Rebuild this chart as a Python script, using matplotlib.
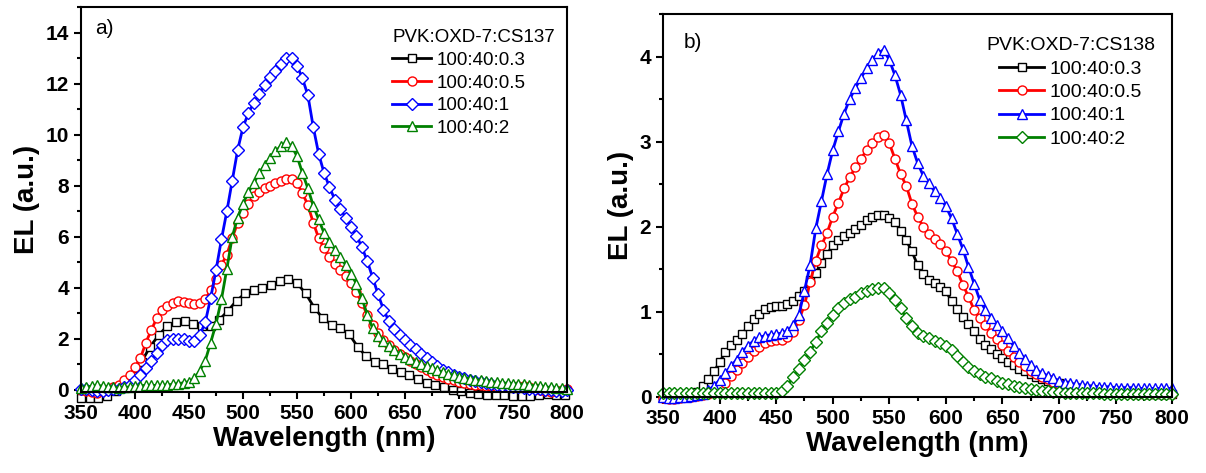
import numpy as np
import matplotlib
matplotlib.use('Agg')
import matplotlib.pyplot as plt
from matplotlib.ticker import MultipleLocator

plt.rcParams['font.family'] = ['Liberation Sans', 'DejaVu Sans']

# ---- panel a) PVK:OXD-7:CS137 ----
wl_a_black = list(range(350, 800, 8))
el_a_black = [-0.30, -0.32, -0.30, -0.25, -0.05, 0.15, 0.55, 1.10, 1.70, 2.15,
              2.52, 2.68, 2.70, 2.58, 2.50, 2.52, 2.75, 3.10, 3.50, 3.78,
              3.92, 4.00, 4.12, 4.25, 4.33, 4.18, 3.78, 3.22, 2.80, 2.56,
              2.42, 2.20, 1.70, 1.32, 1.10, 1.00, 0.82, 0.70, 0.57, 0.43,
              0.28, 0.19, 0.10, 0.00, -0.04, -0.12, -0.16, -0.18, -0.20, -0.20,
              -0.22, -0.24, -0.22, -0.18, -0.16, -0.18, -0.20]

wl = list(range(350, 801, 5))

el_a_red = [0.00, -0.05, -0.08, -0.10, -0.05, 0.00, 0.10, 0.20, 0.38, 0.60,
            0.90, 1.25, 1.85, 2.35, 2.80, 3.15, 3.30, 3.42, 3.47, 3.45,
            3.40, 3.37, 3.40, 3.55, 3.90, 4.35, 4.90, 5.30, 5.95, 6.55,
            6.95, 7.30, 7.60, 7.75, 7.90, 8.00, 8.10, 8.20, 8.27, 8.27,
            8.10, 7.70, 7.25, 6.55, 5.95, 5.55, 5.20, 4.92, 4.70, 4.48,
            4.20, 3.85, 3.40, 2.95, 2.55, 2.22, 1.97, 1.75, 1.57, 1.42,
            1.28, 1.15, 1.03, 0.90, 0.78, 0.68, 0.58, 0.50, 0.44, 0.38,
            0.33, 0.28, 0.24, 0.21, 0.19, 0.17, 0.15, 0.13, 0.12, 0.12,
            0.12, 0.14, 0.15, 0.12, 0.06, 0.00, -0.05, -0.06, -0.05, 0.00,
            0.05]

el_a_blue = [0.05, 0.05, 0.00, -0.05, -0.05, 0.00, 0.02, 0.05, 0.10, 0.20,
             0.38, 0.60, 0.85, 1.15, 1.45, 1.75, 1.95, 2.00, 2.00, 1.98,
             1.93, 1.92, 2.15, 2.65, 3.60, 4.70, 5.90, 7.00, 8.20, 9.40,
             10.30, 10.85, 11.25, 11.60, 11.95, 12.25, 12.50, 12.75, 13.00, 13.00,
             12.70, 12.20, 11.55, 10.30, 9.25, 8.50, 7.95, 7.45, 7.10, 6.75,
             6.40, 6.05, 5.60, 5.05, 4.40, 3.75, 3.15, 2.70, 2.40, 2.17,
             1.95, 1.78, 1.60, 1.42, 1.25, 1.10, 0.95, 0.80, 0.70, 0.60,
             0.52, 0.46, 0.40, 0.36, 0.32, 0.28, 0.24, 0.20, 0.17, 0.15,
             0.13, 0.10, 0.07, 0.05, 0.03, 0.02, 0.00, -0.02, -0.03, -0.03,
             0.00]

el_a_green = [0.08, 0.12, 0.15, 0.18, 0.15, 0.12, 0.10, 0.08, 0.10, 0.12,
              0.15, 0.17, 0.18, 0.18, 0.18, 0.18, 0.20, 0.22, 0.25, 0.28,
              0.33, 0.45, 0.75, 1.15, 1.85, 2.60, 3.55, 4.75, 6.00, 6.75,
              7.30, 7.75, 8.10, 8.50, 8.80, 9.10, 9.35, 9.55, 9.70, 9.55,
              9.15, 8.50, 7.90, 7.22, 6.68, 6.15, 5.80, 5.50, 5.20, 4.90,
              4.55, 4.15, 3.60, 2.95, 2.42, 2.10, 1.90, 1.72, 1.55, 1.42,
              1.30, 1.20, 1.10, 1.00, 0.92, 0.85, 0.78, 0.70, 0.63, 0.58,
              0.52, 0.48, 0.43, 0.40, 0.38, 0.35, 0.32, 0.30, 0.28, 0.26,
              0.25, 0.23, 0.22, 0.20, 0.17, 0.15, 0.12, 0.10, 0.08, 0.07,
              0.05]

# ---- panel b) PVK:OXD-7:CS138 ----
el_b_black = [0.00, 0.00, 0.00, 0.00, 0.01, 0.02, 0.06, 0.13, 0.21, 0.30,
              0.41, 0.53, 0.61, 0.67, 0.74, 0.83, 0.92, 0.98, 1.03, 1.06,
              1.07, 1.07, 1.09, 1.13, 1.19, 1.25, 1.38, 1.46, 1.57, 1.68,
              1.78, 1.84, 1.89, 1.93, 1.97, 2.02, 2.08, 2.11, 2.14, 2.14,
              2.10, 2.06, 1.95, 1.84, 1.71, 1.55, 1.45, 1.38, 1.34, 1.29,
              1.24, 1.13, 1.03, 0.94, 0.86, 0.77, 0.68, 0.61, 0.56, 0.51,
              0.46, 0.41, 0.37, 0.33, 0.30, 0.27, 0.24, 0.21, 0.19, 0.17,
              0.16, 0.14, 0.12, 0.11, 0.10, 0.09, 0.08, 0.07, 0.07, 0.06,
              0.06, 0.05, 0.05, 0.05, 0.05, 0.04, 0.04, 0.04, 0.04, 0.04,
              0.04]

el_b_red = [-0.01, -0.02, -0.02, -0.01, 0.00, 0.00, 0.01, 0.02, 0.04, 0.07,
            0.10, 0.17, 0.25, 0.32, 0.40, 0.47, 0.54, 0.59, 0.63, 0.66,
            0.67, 0.67, 0.70, 0.76, 0.90, 1.08, 1.35, 1.60, 1.78, 1.93,
            2.12, 2.28, 2.45, 2.58, 2.70, 2.80, 2.90, 2.98, 3.05, 3.08,
            2.98, 2.80, 2.62, 2.48, 2.27, 2.12, 2.00, 1.91, 1.86, 1.80,
            1.71, 1.60, 1.48, 1.32, 1.18, 1.02, 0.93, 0.84, 0.75, 0.68,
            0.61, 0.54, 0.47, 0.41, 0.36, 0.31, 0.27, 0.24, 0.21, 0.18,
            0.15, 0.13, 0.11, 0.09, 0.08, 0.07, 0.07, 0.06, 0.06, 0.05,
            0.05, 0.05, 0.04, 0.04, 0.04, 0.04, 0.03, 0.03, 0.03, 0.03,
            0.03]

el_b_blue = [0.00, -0.01, -0.01, 0.00, 0.00, 0.01, 0.02, 0.04, 0.08, 0.13,
             0.20, 0.28, 0.36, 0.44, 0.53, 0.60, 0.66, 0.70, 0.72, 0.73,
             0.74, 0.75, 0.78, 0.84, 0.96, 1.25, 1.55, 1.98, 2.30, 2.62,
             2.90, 3.12, 3.33, 3.50, 3.63, 3.75, 3.86, 3.96, 4.04, 4.08,
             3.96, 3.78, 3.55, 3.25, 2.95, 2.75, 2.60, 2.51, 2.42, 2.34,
             2.24, 2.10, 1.92, 1.74, 1.53, 1.33, 1.14, 1.02, 0.93, 0.85,
             0.77, 0.69, 0.60, 0.52, 0.45, 0.38, 0.32, 0.28, 0.25, 0.22,
             0.19, 0.17, 0.16, 0.15, 0.14, 0.13, 0.13, 0.12, 0.12, 0.12,
             0.11, 0.11, 0.11, 0.11, 0.10, 0.10, 0.10, 0.10, 0.10, 0.10,
             0.10]

el_b_green = [0.05, 0.05, 0.05, 0.05, 0.05, 0.05, 0.05, 0.05, 0.05, 0.05,
              0.05, 0.05, 0.05, 0.05, 0.05, 0.05, 0.05, 0.05, 0.05, 0.05,
              0.05, 0.07, 0.13, 0.24, 0.33, 0.43, 0.53, 0.65, 0.77, 0.87,
              0.96, 1.04, 1.10, 1.15, 1.18, 1.22, 1.25, 1.27, 1.28, 1.28,
              1.22, 1.14, 1.04, 0.93, 0.83, 0.75, 0.72, 0.69, 0.66, 0.63,
              0.60, 0.55, 0.48, 0.41, 0.35, 0.30, 0.27, 0.24, 0.22, 0.19,
              0.17, 0.15, 0.13, 0.12, 0.10, 0.09, 0.08, 0.07, 0.07, 0.06,
              0.06, 0.05, 0.05, 0.05, 0.05, 0.05, 0.05, 0.05, 0.04, 0.04,
              0.04, 0.04, 0.04, 0.04, 0.04, 0.03, 0.03, 0.03, 0.03, 0.03,
              0.03]

labels = ['100:40:0.3', '100:40:0.5', '100:40:1', '100:40:2']


def style_axes(ax, ylim, ymajor, yminor):
    ax.set_xlim(350, 800)
    ax.set_ylim(*ylim)
    ax.xaxis.set_major_locator(MultipleLocator(50))
    ax.xaxis.set_minor_locator(MultipleLocator(25))
    ax.yaxis.set_major_locator(MultipleLocator(ymajor))
    ax.yaxis.set_minor_locator(MultipleLocator(yminor))
    ax.tick_params(which='both', direction='out', width=1.5, top=False, right=False,
                   labelsize=15)
    ax.tick_params(which='major', length=5)
    ax.tick_params(which='minor', length=3)
    for lab in ax.get_xticklabels() + ax.get_yticklabels():
        lab.set_fontweight('bold')
    for sp in ax.spines.values():
        sp.set_linewidth(1.5)
    ax.set_xlabel('Wavelength (nm)', fontsize=20, fontweight='bold', labelpad=2)
    ax.set_ylabel('EL (a.u.)', fontsize=20, fontweight='bold', labelpad=4)


def curve(ax, x, y, color, marker, label, ms=6.5):
    ax.plot(x, y, color=color, lw=2.0, marker=marker, ms=ms, mfc='white',
            mec=color, mew=1.0, label=label, clip_on=False)


fig = plt.figure(figsize=(12.06, 4.73), dpi=100)

ax1 = fig.add_axes([0.0672, 0.1712, 0.4030, 0.8140])
curve(ax1, wl_a_black, el_a_black, 'black', 's', labels[0], ms=6)
curve(ax1, wl, el_a_red, 'red', 'o', labels[1])
curve(ax1, wl, el_a_blue, 'blue', 'D', labels[2], ms=6)
curve(ax1, wl, el_a_green, 'green', '^', labels[3], ms=7)
style_axes(ax1, (-0.08, 15), 2, 1)
ax1.text(0.03, 0.93, 'a)', transform=ax1.transAxes, fontsize=15)
ax1.legend(title='PVK:OXD-7:CS137', loc='upper right', bbox_to_anchor=(0.998, 0.972),
           frameon=False, fontsize=13.5, title_fontsize=13.5, handlelength=2.1,
           handletextpad=0.3, labelspacing=0.3, borderaxespad=0.2,
           alignment='left')

ax2 = fig.add_axes([0.5498, 0.1607, 0.4221, 0.8097])
curve(ax2, wl, el_b_black, 'black', 's', labels[0], ms=6)
curve(ax2, wl, el_b_red, 'red', 'o', labels[1])
curve(ax2, wl, el_b_blue, 'blue', '^', labels[2], ms=7)
curve(ax2, wl, el_b_green, 'green', 'D', labels[3], ms=6)
style_axes(ax2, (0, 4.5), 1, 0.5)
ax2.text(0.04, 0.91, 'b)', transform=ax2.transAxes, fontsize=15)
ax2.legend(title='PVK:OXD-7:CS138', loc='upper right', bbox_to_anchor=(0.99, 0.97),
           frameon=False, fontsize=14, title_fontsize=14, handlelength=2.3,
           handletextpad=0.3, labelspacing=0.3, borderaxespad=0.2)

fig.savefig('out.png', dpi=100)
